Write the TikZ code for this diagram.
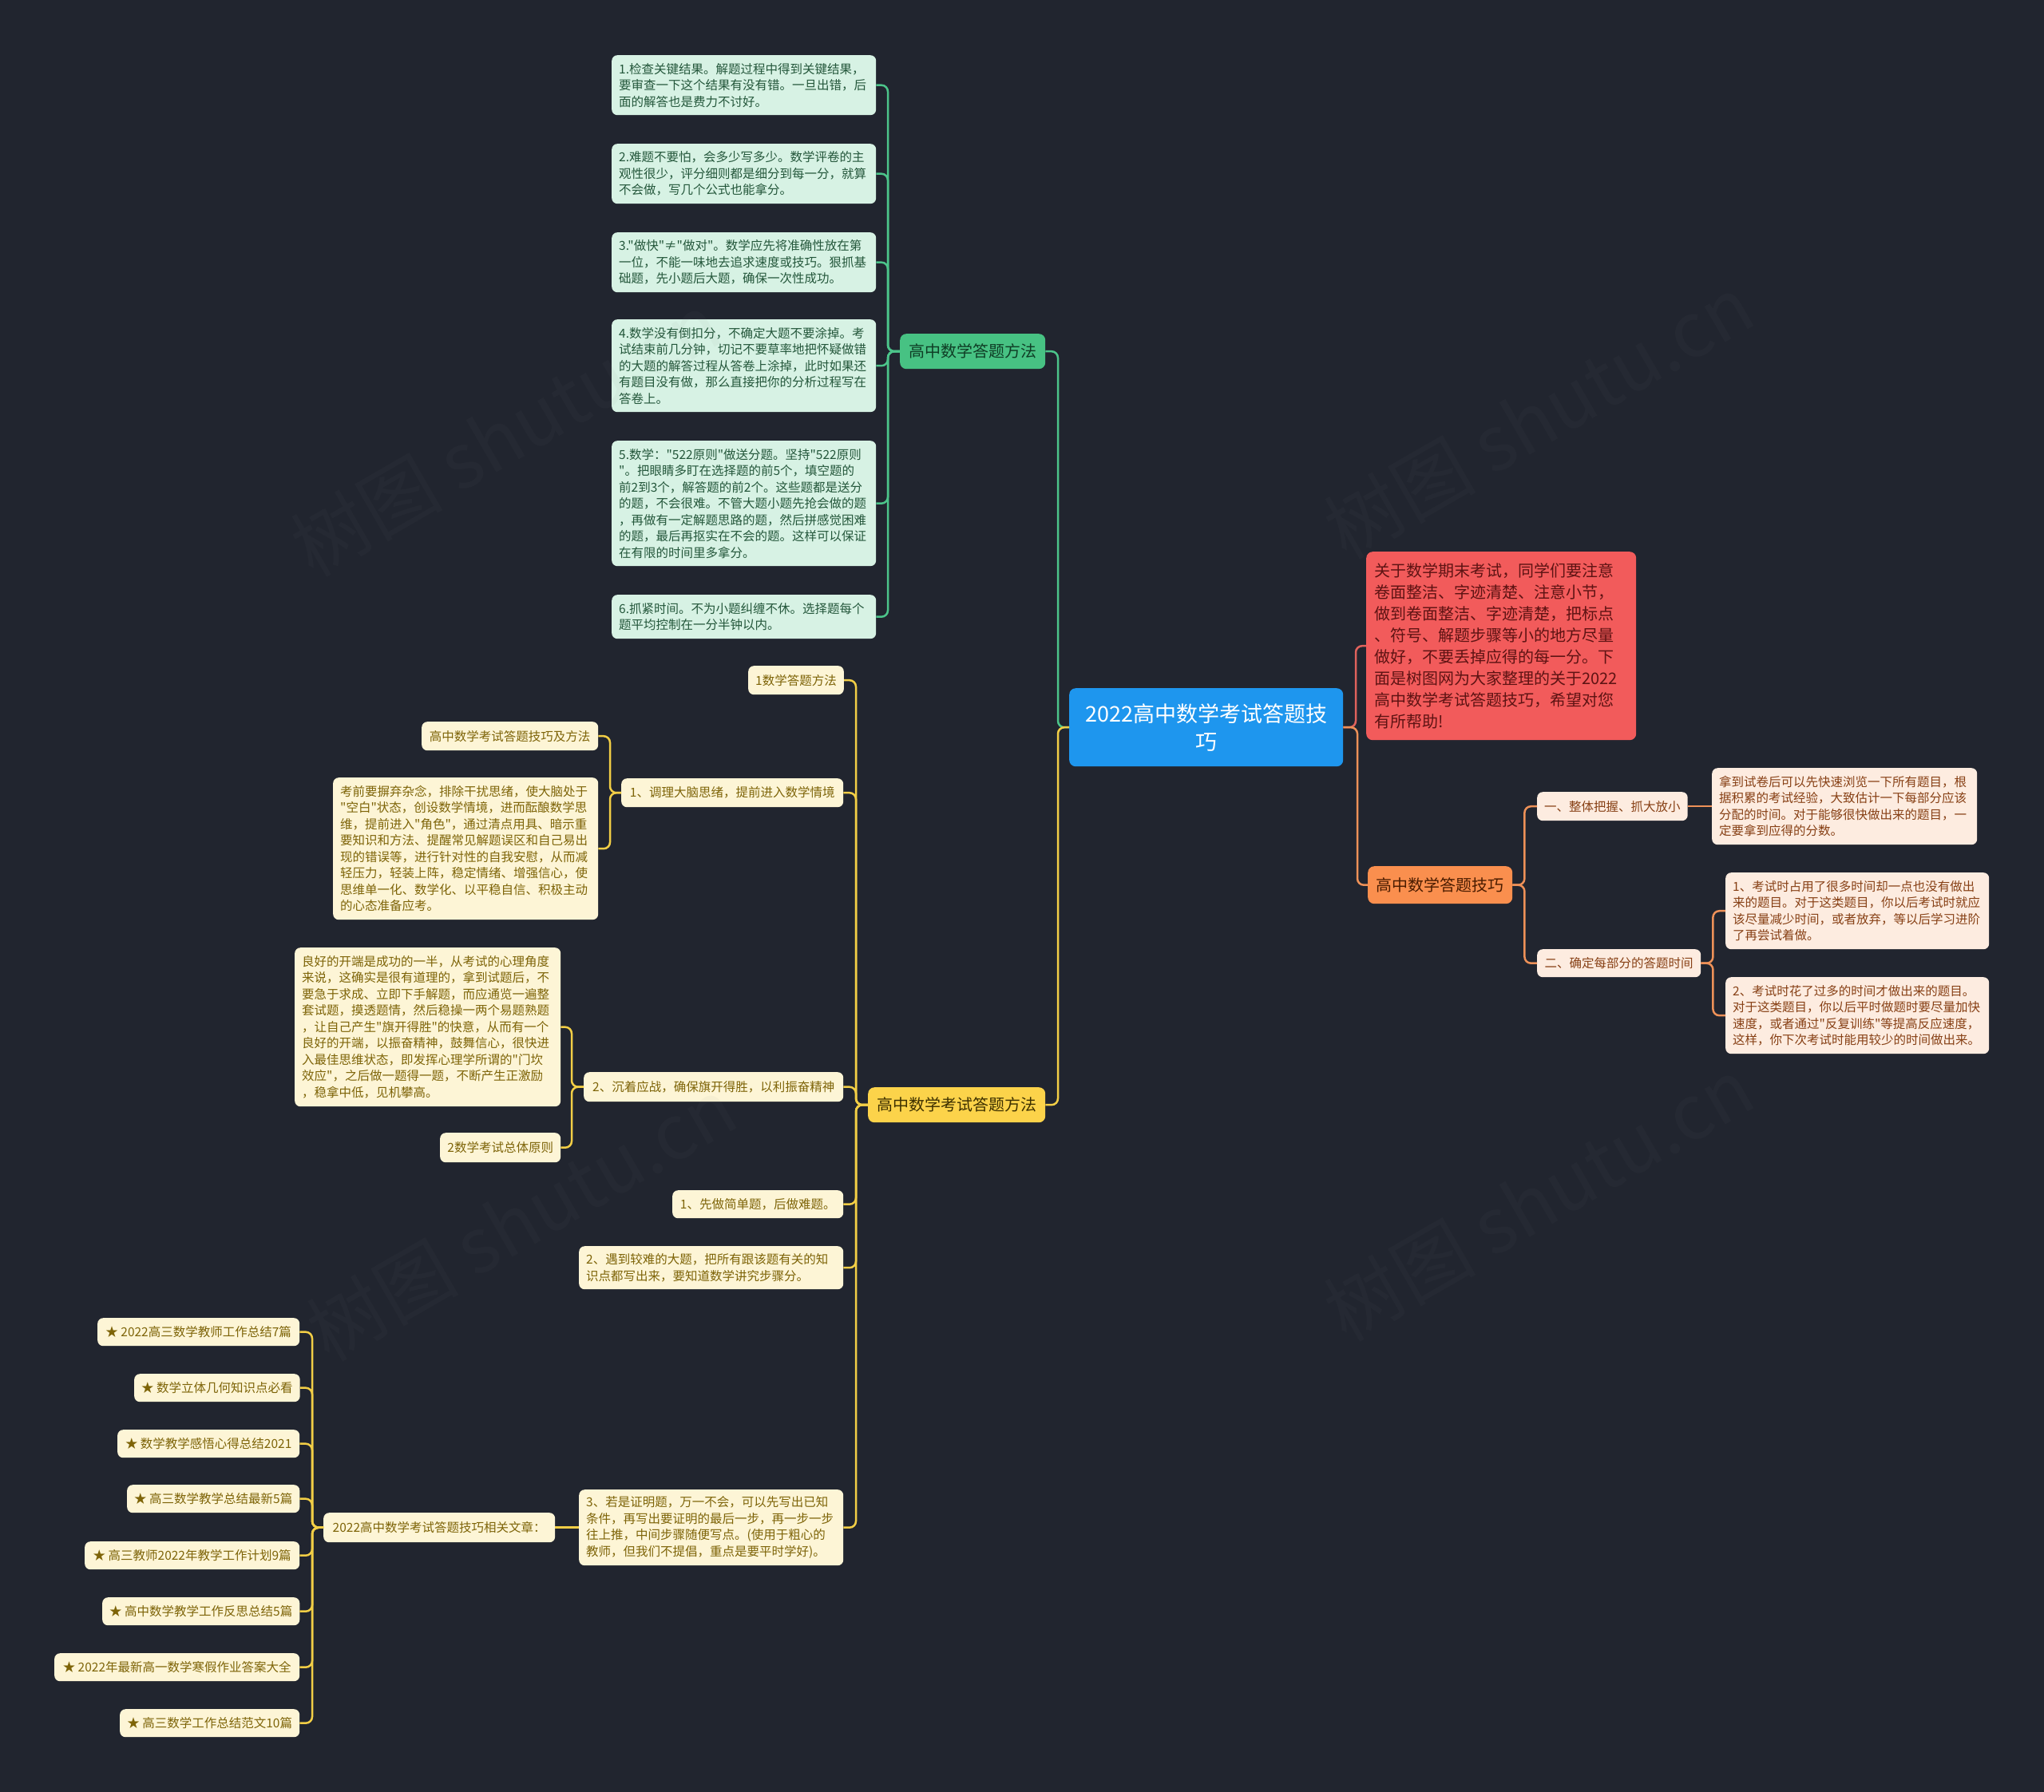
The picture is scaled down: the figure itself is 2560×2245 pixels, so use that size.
\documentclass[tikz,border=0pt]{standalone}
\usepackage{fontspec}
\newfontfamily\cjk{Noto Sans CJK SC}
\usetikzlibrary{calc}
\definecolor{bg}{HTML}{21252F}
\definecolor{cblue}{HTML}{1E96EE}
\definecolor{cred}{HTML}{F25B5B}
\definecolor{credtext}{HTML}{5E1313}
\definecolor{credline}{HTML}{E0625C}
\definecolor{gmainc}{HTML}{47C283}
\definecolor{gmaintext}{HTML}{0F3D25}
\definecolor{gleafc}{HTML}{D7F2E4}
\definecolor{gtext}{HTML}{24573B}
\definecolor{glinec}{HTML}{4CC48A}
\definecolor{ymainc}{HTML}{FCD34A}
\definecolor{ymaintext}{HTML}{3D3000}
\definecolor{yleafc}{HTML}{FDF5D6}
\definecolor{ytext}{HTML}{7E6408}
\definecolor{ylinec}{HTML}{F2CE46}
\definecolor{omainc}{HTML}{FA8F4E}
\definecolor{omaintext}{HTML}{4A1C00}
\definecolor{oleafc}{HTML}{FDECE0}
\definecolor{otext}{HTML}{874015}
\definecolor{olinec}{HTML}{EE9158}
\newcommand\lffont{\cjk\fontsize{15.5pt}{20.5pt}\selectfont}
\newcommand\mnfont{\cjk\fontsize{20pt}{24pt}\selectfont}
\newcommand\ctfont{\cjk\fontsize{27pt}{35pt}\selectfont}
\newcommand\rdfont{\cjk\fontsize{20pt}{27pt}\selectfont}
\newcommand\wmfont{\cjk\fontsize{95pt}{95pt}\selectfont}
\tikzset{
  box/.style={rectangle, rounded corners=7pt, inner ysep=0pt, inner xsep=9pt, anchor=north west, draw=none},
  gleaf/.style={box, fill=gleafc, text=gtext, font=\lffont, align=left},
  yleaf/.style={box, fill=yleafc, text=ytext, font=\lffont, align=left},
  yleafc/.style={box, fill=yleafc, text=ytext, font=\lffont, align=center},
  oleaf/.style={box, fill=oleafc, text=otext, font=\lffont, align=left},
  oleafc/.style={box, fill=oleafc, text=otext, font=\lffont, align=center},
  mainbox/.style={box, rounded corners=8pt, font=\mnfont, align=center},
  conn/.style={line width=2.5pt, rounded corners=8pt},
  gl/.style={conn, draw=glinec},
  yl/.style={conn, draw=ylinec},
  ol/.style={conn, draw=olinec},
  rl/.style={conn, draw=credline},
  wm/.style={rotate=30, text=gray, opacity=0.05, font=\wmfont}
}
\begin{document}
\begin{tikzpicture}[x=1pt,y=-1pt]
\fill[bg] (0,0) rectangle (2560,2245);
\useasboundingbox (0,0) rectangle (2560,2245);

% central
\node[mainbox, fill=cblue, text=white, font=\ctfont, minimum width=343pt, minimum height=98pt] (ct) at (1339,862) {2022高中数学考试答题技\\巧};

% red
\node[box, rounded corners=8pt, fill=cred, text=credtext, font=\rdfont, align=left, inner xsep=10pt, text width=318pt, minimum height=236pt] (rd) at (1711,691) {关于数学期末考试，同学们要注意\\卷面整洁、字迹清楚、注意小节，\\做到卷面整洁、字迹清楚，把标点\\、符号、解题步骤等小的地方尽量\\做好，不要丢掉应得的每一分。下\\面是树图网为大家整理的关于2022\\高中数学考试答题技巧，希望对您\\有所帮助!};

% green branch
\node[mainbox, fill=gmainc, text=gmaintext, minimum width=182pt, minimum height=44pt] (gm) at (1127,418) {高中数学答题方法};
\node[gleaf, text width=313pt, minimum height=75pt] (g1) at (766,69) {1.检查关键结果。解题过程中得到关键结果，\\要审查一下这个结果有没有错。一旦出错，后\\面的解答也是费力不讨好。};
\node[gleaf, text width=313pt, minimum height=75pt] (g2) at (766,180) {2.难题不要怕，会多少写多少。数学评卷的主\\观性很少，评分细则都是细分到每一分，就算\\不会做，写几个公式也能拿分。};
\node[gleaf, text width=313pt, minimum height=75pt] (g3) at (766,291) {3."做快"≠"做对"。数学应先将准确性放在第\\一位，不能一味地去追求速度或技巧。狠抓基\\础题，先小题后大题，确保一次性成功。};
\node[gleaf, text width=313pt, minimum height=116pt] (g4) at (766,400) {4.数学没有倒扣分，不确定大题不要涂掉。考\\试结束前几分钟，切记不要草率地把怀疑做错\\的大题的解答过程从答卷上涂掉，此时如果还\\有题目没有做，那么直接把你的分析过程写在\\答卷上。};
\node[gleaf, text width=313pt, minimum height=157pt] (g5) at (766,552) {5.数学："522原则"做送分题。坚持"522原则\\"。把眼睛多盯在选择题的前5个，填空题的\\前2到3个，解答题的前2个。这些题都是送分\\的题，不会很难。不管大题小题先抢会做的题\\，再做有一定解题思路的题，然后拼感觉困难\\的题，最后再抠实在不会的题。这样可以保证\\在有限的时间里多拿分。};
\node[gleaf, text width=313pt, minimum height=55pt] (g6) at (766,745) {6.抓紧时间。不为小题纠缠不休。选择题每个\\题平均控制在一分半钟以内。};

% yellow branch
\node[mainbox, fill=ymainc, text=ymaintext, minimum width=222pt, minimum height=44pt] (ym) at (1087,1362) {高中数学考试答题方法};
\node[yleafc, minimum width=119pt, minimum height=36pt] (ya) at (937,834) {1数学答题方法};
\node[yleafc, minimum width=278pt, minimum height=36pt] (yb) at (778,975) {1、调理大脑思绪，提前进入数学情境};
\node[yleafc, minimum width=325pt, minimum height=37pt] (yc) at (731,1343) {2、沉着应战，确保旗开得胜，以利振奋精神};
\node[yleafc, minimum width=214pt, minimum height=35pt] (yd) at (842,1491) {1、先做简单题，后做难题。};
\node[yleaf, text width=313pt, minimum height=54pt] (ye) at (725,1561) {2、遇到较难的大题，把所有跟该题有关的知\\识点都写出来，要知道数学讲究步骤分。};
\node[yleaf, text width=313pt, minimum height=95pt] (yf) at (725,1866) {3、若是证明题，万一不会，可以先写出已知\\条件，再写出要证明的最后一步，再一步一步\\往上推，中间步骤随便写点。(使用于粗心的\\教师，但我们不提倡，重点是要平时学好)。};

\node[yleafc, minimum width=221pt, minimum height=36pt] (b1) at (528,904) {高中数学考试答题技巧及方法};
\node[yleaf, text width=314pt, minimum height=178pt] (b2) at (417,974) {考前要摒弃杂念，排除干扰思绪，使大脑处于\\"空白"状态，创设数学情境，进而酝酿数学思\\维，提前进入"角色"，通过清点用具、暗示重\\要知识和方法、提醒常见解题误区和自己易出\\现的错误等，进行针对性的自我安慰，从而减\\轻压力，轻装上阵，稳定情绪、增强信心，使\\思维单一化、数学化、以平稳自信、积极主动\\的心态准备应考。};

\node[yleaf, text width=315pt, minimum height=199pt] (c1) at (369,1187) {良好的开端是成功的一半，从考试的心理角度\\来说，这确实是很有道理的，拿到试题后，不\\要急于求成、立即下手解题，而应通览一遍整\\套试题，摸透题情，然后稳操一两个易题熟题\\，让自己产生"旗开得胜"的快意，从而有一个\\良好的开端，以振奋精神，鼓舞信心，很快进\\入最佳思维状态，即发挥心理学所谓的"门坎\\效应"，之后做一题得一题，不断产生正激励\\，稳拿中低，见机攀高。};
\node[yleafc, minimum width=151pt, minimum height=37pt] (c2) at (551,1419) {2数学考试总体原则};

\node[yleafc, minimum width=290pt, minimum height=37pt] (an) at (405,1895) {2022高中数学考试答题技巧相关文章：};
\node[yleafc, minimum width=253pt, minimum height=35pt] (a1) at (122,1651) {★ 2022高三数学教师工作总结7篇};
\node[yleafc, minimum width=207pt, minimum height=35pt] (a2) at (168,1721) {★ 数学立体几何知识点必看};
\node[yleafc, minimum width=228pt, minimum height=35pt] (a3) at (147,1791) {★ 数学教学感悟心得总结2021};
\node[yleafc, minimum width=216pt, minimum height=35pt] (a4) at (159,1860) {★ 高三数学教学总结最新5篇};
\node[yleafc, minimum width=269pt, minimum height=35pt] (a5) at (106,1931) {★ 高三教师2022年教学工作计划9篇};
\node[yleafc, minimum width=247pt, minimum height=35pt] (a6) at (128,2001) {★ 高中数学教学工作反思总结5篇};
\node[yleafc, minimum width=307pt, minimum height=35pt] (a7) at (68,2071) {★ 2022年最新高一数学寒假作业答案大全};
\node[yleafc, minimum width=225pt, minimum height=35pt] (a8) at (150,2141) {★ 高三数学工作总结范文10篇};

% orange branch
\node[mainbox, fill=omainc, text=omaintext, minimum width=181pt, minimum height=47pt] (om) at (1713,1085) {高中数学答题技巧};
\node[oleafc, minimum width=188pt, minimum height=36pt] (o1) at (1925,992) {一、整体把握、抓大放小};
\node[oleafc, minimum width=205pt, minimum height=35pt] (o2) at (1925,1189) {二、确定每部分的答题时间};
\node[oleaf, text width=314pt, minimum height=96pt] (o1c) at (2144,962) {拿到试卷后可以先快速浏览一下所有题目，根\\据积累的考试经验，大致估计一下每部分应该\\分配的时间。对于能够很快做出来的题目，一\\定要拿到应得的分数。};
\node[oleaf, text width=312pt, minimum height=96pt] (o2a) at (2161,1093) {1、考试时占用了很多时间却一点也没有做出\\来的题目。对于这类题目，你以后考试时就应\\该尽量减少时间，或者放弃，等以后学习进阶\\了再尝试着做。};
\node[oleaf, text width=312pt, minimum height=96pt] (o2b) at (2161,1224) {2、考试时花了过多的时间才做出来的题目。\\对于这类题目，你以后平时做题时要尽量加快\\速度，或者通过"反复训练"等提高反应速度，\\这样，你下次考试时能用较少的时间做出来。};

% connectors: center
\draw[gl] (gm.east) -| ([xshift=-14pt]ct.west) -- (ct.west);
\draw[yl] (ym.east) -| ([xshift=-14pt]ct.west) -- (ct.west);
\draw[rl] (ct.east) -| ([xshift=-13pt]rd.west) -- (rd.west);
\draw[ol] (ct.east) -| ([xshift=-13pt]om.west) -- (om.west);

% green leaves
\foreach \n in {g1,g2,g3,g4,g5,g6}
  \draw[gl] (\n.east) -| ([xshift=-15pt]gm.west) -- (gm.west);

% yellow
\foreach \n in {ya,yb,yc,yd,ye,yf}
  \draw[yl] (\n.east) -| ([xshift=-15pt]ym.west) -- (ym.west);
\foreach \n in {b1,b2}
  \draw[yl] (\n.east) -| ([xshift=-14pt]yb.west) -- (yb.west);
\foreach \n in {c1,c2}
  \draw[yl] (\n.east) -| ([xshift=-15pt]yc.west) -- (yc.west);
\draw[yl] (an.east) -- (yf.west);
\foreach \n in {a1,a2,a3,a4,a5,a6,a7,a8}
  \draw[yl] (\n.east) -| ([xshift=-14pt]an.west) -- (an.west);

% orange
\foreach \n in {o1,o2}
  \draw[ol] (\n.west) -| ([xshift=15pt]om.east) -- (om.east);
\draw[ol] (o1.east) -- (o1c.west);
\foreach \n in {o2a,o2b}
  \draw[ol] (\n.west) -| ([xshift=15pt]o2.east) -- (o2.east);

% watermarks
\node[wm] (w1) at (633,544) {树图 shutu.cn};
\node[wm] (w2) at (1927,522) {树图 shutu.cn};
\node[wm] (w3) at (653,1527) {树图 shutu.cn};
\node[wm] (w4) at (1927,1502) {树图 shutu.cn};
\end{tikzpicture}
\end{document}
